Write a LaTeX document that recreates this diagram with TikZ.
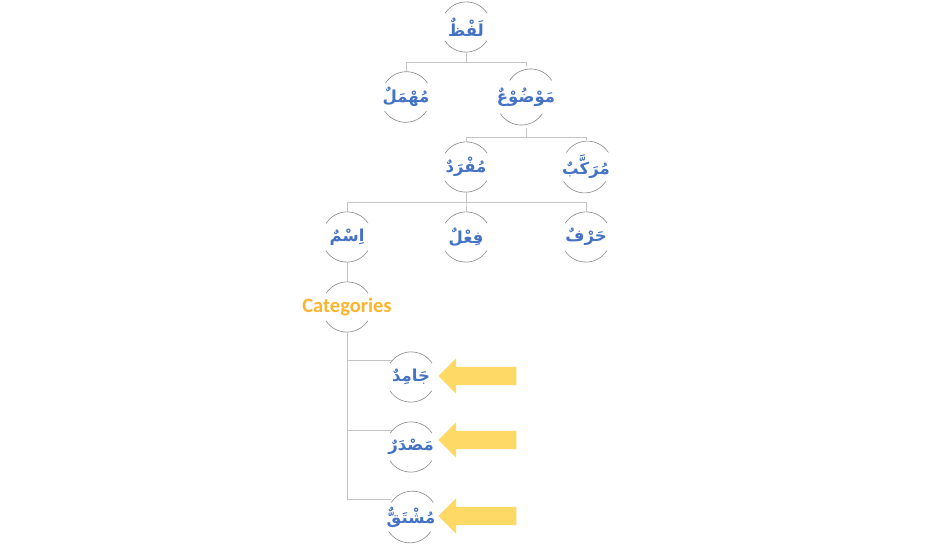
\documentclass[tikz,border=0pt]{standalone}
\usepackage{fontspec}
\setmainfont{Carlito}
\newfontfamily\arabicfont[Script=Arabic]{DejaVu Sans}
\TeXXeTstate=1
\usetikzlibrary{shapes.arrows}
\definecolor{wordblue}{RGB}{68,114,196}
\definecolor{catorange}{RGB}{253,180,45}
\definecolor{arrowgold}{RGB}{255,217,102}
\definecolor{arcgray}{RGB}{135,135,135}
\definecolor{linegray}{RGB}{196,196,196}
\newcommand{\arword}[1]{{\arabicfont\bfseries\beginR #1\endR}}
\newcommand{\rims}[1]{\draw[rim] (#1.33) arc (33:147:25);
  \draw[rim] (#1.213) arc (213:327:25);}

\begin{document}
\begin{tikzpicture}[x=1pt,y=1pt,
  word/.style={circle,minimum size=50pt,inner sep=0pt,text=wordblue,font=\fontsize{16.5}{20}\selectfont},
  catlabel/.style={text=catorange,font=\fontsize{20.5}{25}\selectfont\bfseries},
  branch/.style={draw=linegray,line width=0.9pt},
  rim/.style={draw=arcgray,line width=0.6pt},
  pointer/.style={single arrow,fill=arrowgold,minimum height=78pt,inner xsep=0pt,inner ysep=9pt,
    single arrow head extend=8.5pt,shape border rotate=180}]
\useasboundingbox (0,0) rectangle (932,-545);
% tree
\node[word] (lafz) at (466,-27) {\arword{لَفْظٌ}};
\node[word] (muhmal) at (406,-97) {\arword{مُهْمَلٌ}};
\node[word] (mawdu) at (526,-97) {\arword{مَوْضُوْعٌ}};
\node[word] (mufrad) at (466,-167) {\arword{مُفْرَدٌ}};
\node[word] (murakkab) at (586,-167) {\arword{مُرَكَّبٌ}};
\node[word] (ism) at (347,-237) {\arword{اِسْمٌ}};
\node[word] (fil) at (466,-237) {\arword{فِعْلٌ}};
\node[word] (harf) at (586,-237) {\arword{حَرْفٌ}};
\node[word,label={[catlabel]center:Categories}] (cat) at (347,-307) {};
\node[word] (jamid) at (411,-377) {\arword{جَامِدٌ}};
\node[word] (masdar) at (411,-447) {\arword{مَصْدَرٌ}};
\node[word] (mushtaq) at (411,-517) {\arword{مُشْتَقٌّ}};
\foreach \n in {lafz,muhmal,mawdu,mufrad,murakkab,ism,fil,harf,cat,jamid,masdar,mushtaq}
  {\rims{\n}}
% connectors
\draw[branch] (lafz.south) -- ++(0,-10) -| (muhmal.north);
\draw[branch] (lafz.south) -- ++(0,-10) -| (mawdu.north);
\draw[branch] (mawdu.south) -- ++(0,-10) -| (mufrad.north);
\draw[branch] (mawdu.south) -- ++(0,-10) -| (murakkab.north);
\foreach \c in {ism,fil,harf}
  \draw[branch] (mufrad.south) -- ++(0,-10) -| (\c.north);
\draw[branch] (ism.south) -- (cat.north);
\foreach \c in {jamid,masdar,mushtaq}
  \draw[branch] (cat.south) |- (\c.140);
% arrows
\node[pointer] (pjamid) at (482,-376) {};
\node[pointer] (pmasdar) at (482,-440) {};
\node[pointer] (pmushtaq) at (482,-516) {};
\end{tikzpicture}
\end{document}
